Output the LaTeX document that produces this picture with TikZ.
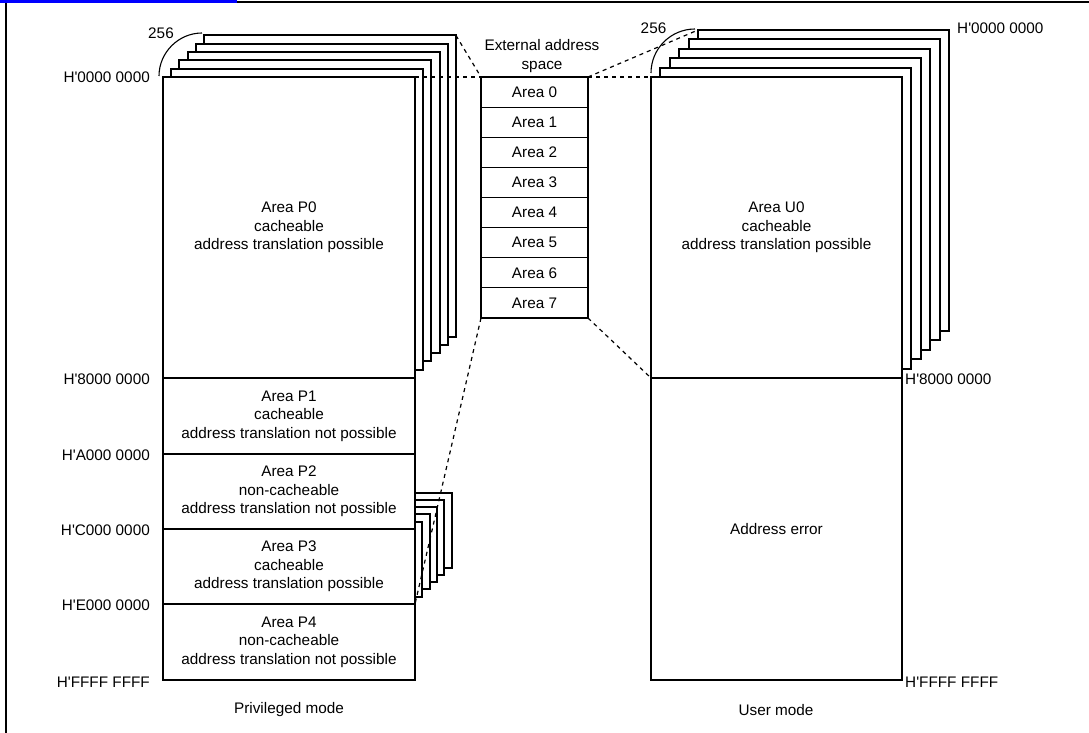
\documentclass[tikz,border=0pt]{standalone}
\usepackage{fontspec}
\setmainfont{Liberation Sans}
\newcommand{\hx}[1]{H\textquotesingle #1}
\begin{document}
\begin{tikzpicture}[x=1pt,y=-1pt,
  txt/.style={font=\fontsize{15.3}{18.5}\selectfont, align=center, inner sep=0pt},
  region/.style={draw, line width=2pt, fill=white, inner sep=0pt, outer sep=0pt,
                 anchor=north west, txt},
  page/.style={region},
  cell/.style={draw, line width=0.8pt, inner sep=0pt, outer sep=0pt, anchor=north west,
               minimum width=107pt, minimum height=30.125pt, txt},
  link/.style={line width=1.2pt, dash pattern=on 4pt off 4pt},
  addr/.style={txt},
  bracket/.style={line width=1.1pt}]
\useasboundingbox (0,0) rectangle (1089,733);

% page frame
\fill[blue] (0,0) rectangle (237,3.2);
\draw[line width=2pt] (237,2.5) -- (1089,2.5);
\draw[line width=2pt] (6,3) -- (6,733);

% stacked copies behind area P0 and area P3
\foreach \k in {5,4,3,2,1}
  \node[page, minimum width=252pt, minimum height=301pt] (p0l\k) at ({163+8.2*\k},{77-8.3*\k}) {};
\foreach \k in {5,4,3,2,1}
  \node[page, minimum width=252pt, minimum height=75pt] (p3l\k) at ({163+7.3*\k},{529-7.3*\k}) {};

% privileged mode address space
\node[region, minimum width=252pt, minimum height=301pt] (p0) at (163,77)
  {Area P0\\cacheable\\address translation possible};
\node[region, minimum width=252pt, minimum height=76pt] (p1) at (163,378)
  {Area P1\\cacheable\\address translation not possible};
\node[region, minimum width=252pt, minimum height=75pt] (p2) at (163,454)
  {Area P2\\non-cacheable\\address translation not possible};
\node[region, minimum width=252pt, minimum height=75pt] (p3) at (163,529)
  {Area P3\\cacheable\\address translation possible};
\node[region, minimum width=252pt, minimum height=76pt] (p4) at (163,604)
  {Area P4\\non-cacheable\\address translation not possible};

% user mode address space
\foreach \k in {5,4,3,2,1}
  \node[page, minimum width=251pt, minimum height=301pt] (u0l\k) at ({651+9.4*\k},{77-9.4*\k}) {};
\node[region, minimum width=251pt, minimum height=301pt] (u0) at (651,77)
  {Area U0\\cacheable\\address translation possible};
\node[region, minimum width=251pt, minimum height=302pt] (uerr) at (651,378)
  {Address error};

% external address space
\foreach \i in {0,...,7}
  \node[cell] (area\i) at (481,{77+30.125*\i}) {Area \i};
\node[draw, line width=2pt, inner sep=0pt, outer sep=0pt, anchor=north west,
      minimum width=107pt, minimum height=241pt] (ext) at (481,77) {};
\node[txt] (exttitle) at (542,56) {External address\\space};

% mapping lines
\draw[link] (p0l5.north east) -- (ext.north west);
\draw[link] (p0.north east) -- (ext.north west);
\draw[link] (ext.north east) -- (u0.north west);
\draw[link] (ext.north east) -- (u0l5.north west);
\draw[link] (ext.south west) -- (p3.south east);
\draw[link] (ext.south east) -- (uerr.north west);

% "256" copies brackets
\draw[bracket] (159,76) .. controls (159,52.5) and (178.5,33) .. (202,33);
\draw[bracket] (651,73) .. controls (651,48.7) and (670.7,29) .. (695,29);
\node[txt] (n256a) at (161,33) {256};
\node[txt] (n256b) at (653.5,28) {256};

% addresses
\node[addr, anchor=east] (aP0) at (150,77) {\hx{0000 0000}};
\node[addr, anchor=east] (aP1) at (150,379) {\hx{8000 0000}};
\node[addr, anchor=east] (aP2) at (150,455) {\hx{A000 0000}};
\node[addr, anchor=east] (aP3) at (150,530) {\hx{C000 0000}};
\node[addr, anchor=east] (aP4) at (150,605) {\hx{E000 0000}};
\node[addr, anchor=east] (aPe) at (150,682) {\hx{FFFF FFFF}};
\node[addr, anchor=west] (aU0) at (957,28) {\hx{0000 0000}};
\node[addr, anchor=west] (aU1) at (905,379) {\hx{8000 0000}};
\node[addr, anchor=west] (aUe) at (905,682) {\hx{FFFF FFFF}};

% mode captions
\node[txt] (priv) at (289,710) {Privileged mode};
\node[txt] (user) at (776,710) {User mode};
\end{tikzpicture}
\end{document}
